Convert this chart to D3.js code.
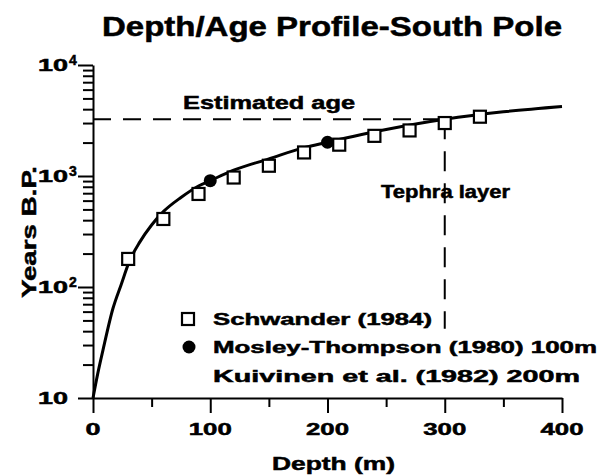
<!DOCTYPE html>
<html>
<head>
<meta charset="utf-8">
<script src="https://cdn.jsdelivr.net/npm/d3@7"></script>
<style>
  html, body { margin: 0; padding: 0; background: #fff; }
  svg { display: block; }
  text { font-family: "Liberation Sans", Arial, Helvetica, sans-serif; font-weight: bold; fill: #000; stroke: #000; stroke-width: 0.5px; }
</style>
</head>
<body>
<svg id="chart" width="599" height="476"></svg>
<script>
// ---- data ----
const curveDepth = [0, 4, 8.5, 17, 24, 31, 40, 50, 60, 75, 90, 100, 120, 150, 180, 200, 250, 300, 350, 400];
const curveAge   = [10, 16.5, 27, 64, 105, 170, 255, 362, 477, 640, 813, 908, 1128, 1427, 1800, 2014, 2620, 3240, 3785, 4230];

const schwanderDepth = [30, 60, 90, 120, 150, 180, 210, 240, 270, 300, 330];
const schwanderAge   = [179, 410, 689, 969, 1237, 1630, 1915, 2300, 2573, 3000, 3420];

const circleDepth = [100, 200];
const circleAge   = [908, 2014];

const xTicks = [0, 100, 200, 300, 400];
const xMinorTicks = [50, 150, 250, 350];
const yTicks = [10, 100, 1000, 10000];
const yTickExp = ["", "2", "3", "4"];

const tephraDepth = 300;
const estimatedAge = 3240;
const tephraLineEndAge = 42;

const title = "Depth/Age Profile-South Pole";
const xTitle = "Depth (m)";
const yTitle = "Years B.P.";
const legendLabels = ["Schwander (1984)", "Mosley-Thompson (1980) 100m", "Kuivinen et al. (1982) 200m"];

// ---- layout ----
const svg = d3.select("#chart");
const x = d3.scaleLinear().domain([0, 400]).range([93, 562]);
const y = d3.scaleLog().domain([10, 10000]).range([398, 65]);

const yMinor = [];
[10, 100, 1000].forEach(b => { for (let k = 2; k <= 9; k++) yMinor.push(b * k); });

// x axis
const gx = svg.append("g").attr("transform", `translate(0,${y(10)})`);
gx.call(d3.axisBottom(x).tickValues(xTicks).tickSize(15).tickSizeOuter(0).tickFormat(""));
gx.append("g").call(d3.axisBottom(x).tickValues(xMinorTicks).tickSize(9).tickSizeOuter(0).tickFormat(""))
  .select(".domain").remove();
gx.selectAll("path,line").attr("stroke", "#000").attr("stroke-width", 2);

// y axis
const gy = svg.append("g").attr("transform", `translate(${x(0)},0)`);
gy.call(d3.axisLeft(y).tickValues(yTicks).tickSize(15).tickSizeOuter(0).tickFormat(""));
gy.append("g").call(d3.axisLeft(y).tickValues(yMinor).tickSize(10).tickSizeOuter(0).tickFormat(""))
  .select(".domain").remove();
gy.selectAll("path,line").attr("stroke", "#000").attr("stroke-width", 2);

// x tick labels
xTicks.forEach(v => {
  const s = String(v);
  const len = s.length === 1 ? 15 : 43;
  svg.append("text")
    .attr("x", x(v) - len / 2).attr("y", 435)
    .attr("font-size", 16.5)
    .attr("textLength", len).attr("lengthAdjust", "spacingAndGlyphs")
    .text(s);
});

// y tick labels
yTicks.forEach((v, i) => {
  const t = svg.append("text")
    .attr("x", 38).attr("y", y(v) + 6)
    .attr("font-size", 16.5);
  t.append("tspan").attr("textLength", 30).attr("lengthAdjust", "spacingAndGlyphs").text("10");
  if (yTickExp[i]) {
    t.append("tspan").attr("x", 69).attr("dy", -6).attr("font-size", 14).text(yTickExp[i]);
  }
});

// title and axis titles
svg.append("text").attr("x", 102).attr("y", 36).attr("font-size", 27)
  .attr("textLength", 460).attr("lengthAdjust", "spacingAndGlyphs").text(title);
svg.append("text").attr("x", 272).attr("y", 470).attr("font-size", 19)
  .attr("textLength", 123).attr("lengthAdjust", "spacingAndGlyphs").text(xTitle);
svg.append("text").attr("transform", "translate(36,298) rotate(-90)").attr("font-size", 21)
  .attr("textLength", 132).attr("lengthAdjust", "spacingAndGlyphs").text(yTitle);

// dashed reference lines
svg.append("line")
  .attr("x1", x(0)).attr("x2", x(tephraDepth))
  .attr("y1", y(estimatedAge)).attr("y2", y(estimatedAge))
  .attr("stroke", "#000").attr("stroke-width", 2).attr("stroke-dasharray", "18,12");
svg.append("line")
  .attr("x1", x(tephraDepth)).attr("x2", x(tephraDepth))
  .attr("y1", y(estimatedAge)).attr("y2", y(tephraLineEndAge))
  .attr("stroke", "#000").attr("stroke-width", 2).attr("stroke-dasharray", "20,12");

svg.append("text").attr("x", 183).attr("y", 109).attr("font-size", 18)
  .attr("textLength", 172).attr("lengthAdjust", "spacingAndGlyphs").text("Estimated age");
svg.append("text").attr("x", 381).attr("y", 198).attr("font-size", 17.5)
  .attr("textLength", 129).attr("lengthAdjust", "spacingAndGlyphs").text("Tephra layer");

// curve
const line = d3.line().x(d => x(d[0])).y(d => y(d[1])).curve(d3.curveMonotoneX);
svg.append("path")
  .datum(curveDepth.map((d, i) => [d, curveAge[i]]))
  .attr("d", line).attr("fill", "none").attr("stroke", "#000").attr("stroke-width", 3);

// squares
const sq = 12;
svg.selectAll("rect.sch").data(schwanderDepth.map((d, i) => [d, schwanderAge[i]])).enter()
  .append("rect").attr("class", "sch")
  .attr("x", d => x(d[0]) - sq / 2).attr("y", d => y(d[1]) - sq / 2)
  .attr("width", sq).attr("height", sq)
  .attr("fill", "#fff").attr("stroke", "#000").attr("stroke-width", 2.2);

// circles
svg.selectAll("circle.mt").data(circleDepth.map((d, i) => [d, circleAge[i]])).enter()
  .append("circle").attr("class", "mt")
  .attr("cx", d => x(d[0])).attr("cy", d => y(d[1])).attr("r", 6.5).attr("fill", "#000");

// legend
const legY = [325, 353, 382];
const legLen = [219, 384, 367];
svg.append("rect").attr("x", 188 - sq / 2).attr("y", legY[0] - 6 - sq / 2).attr("width", sq).attr("height", sq)
  .attr("fill", "#fff").attr("stroke", "#000").attr("stroke-width", 2.2);
svg.append("circle").attr("cx", 189).attr("cy", legY[1] - 6).attr("r", 6.5).attr("fill", "#000");
legendLabels.forEach((s, i) => {
  svg.append("text").attr("x", 213).attr("y", legY[i]).attr("font-size", 17)
    .attr("textLength", legLen[i]).attr("lengthAdjust", "spacingAndGlyphs").text(s);
});
</script>
</body>
</html>
